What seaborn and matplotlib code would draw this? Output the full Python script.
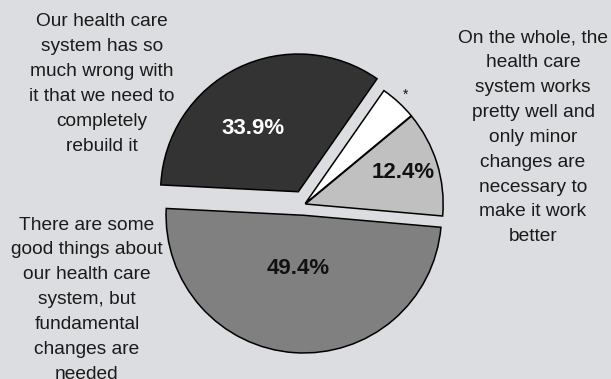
import matplotlib
matplotlib.use("Agg")
import matplotlib.pyplot as plt
import seaborn as sns

# ---- data ----
values = [12.4, 4.3, 33.9, 49.4]
pct_labels = ["12.4%", "*", "33.9%", "49.4%"]
slice_colors = ["#c0c0c0", "#ffffff", "#333333", "#808080"]
pct_colors = ["#111111", "#111111", "#ffffff", "#111111"]
pct_weights = ["bold", "normal", "bold", "bold"]
categories = [
    "On the whole, the\nhealth care\nsystem works\npretty well and\nonly minor\nchanges are\nnecessary to\nmake it work\nbetter",
    "",
    "Our health care\nsystem has so\nmuch wrong with\nit that we need to\ncompletely\nrebuild it",
    "There are some\ngood things about\nour health care\nsystem, but\nfundamental\nchanges are\nneeded",
]

sns.set_style("white")
plt.rcParams["font.family"] = ["Liberation Sans", "DejaVu Sans"]

BG = "#dcdde0"
W, H = 611, 379
fig = plt.figure(figsize=(W / 100, H / 100), dpi=100, facecolor=BG)
ax = fig.add_axes([0, 0, 1, 1])
ax.set_facecolor(BG)

cx, cy = 304.5, H - 204.3
R = 137.7
wedges, _ = ax.pie(values, colors=slice_colors, startangle=-5, counterclock=True,
                   explode=[1, 1, 14, 11], radius=R, center=(cx, cy),
                   wedgeprops=dict(edgecolor="black", linewidth=1.1),
                   frame=True)
ax.set_xlim(0, W)
ax.set_ylim(0, H)
ax.set_aspect("equal")
ax.axis("off")

# percentage labels (image pixel positions)
pct_pos = [(403, 172), (406, 95), (253, 128), (298, 269)]
pct_sizes = [16, 10, 16, 16]
for t, (x, y), c, w, s in zip(pct_labels, pct_pos, pct_colors, pct_weights, pct_sizes):
    ax.text(x, H - y, t, color=c, fontweight=w, fontsize=s, ha="center", va="center")

# category labels: (x centre, y of first line centre) in image pixels
cat_pos = [(533, 37.7), None, (102, 22), (87, 225)]
LINE = 24.9
for t, p in zip(categories, cat_pos):
    if p is None:
        continue
    for i, line in enumerate(t.split("\n")):
        ax.text(p[0], H - (p[1] + i * LINE), line, ha="center", va="center",
                fontsize=13.8, color="#1a1a1a")

fig.savefig("out.png", dpi=100, facecolor=BG)
